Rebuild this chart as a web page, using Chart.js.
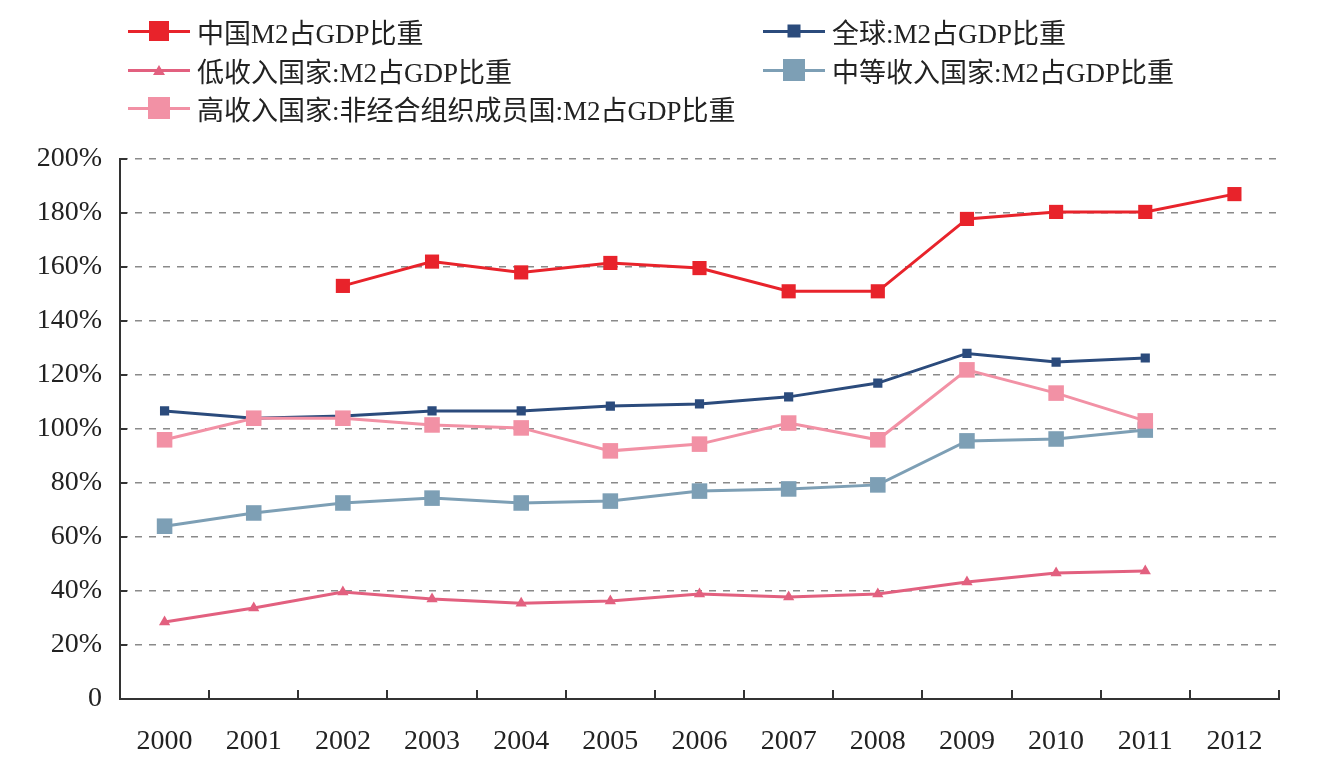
<!DOCTYPE html>
<html>
<head>
<meta charset="utf-8">
<script src="https://cdn.jsdelivr.net/npm/chart.js@4"></script>
<style>
  html, body { margin: 0; padding: 0; background: #fff; }
  #wrap { position: relative; width: 1326px; height: 777px; }
  #c { position: absolute; left: 0; top: 0; }
  .leg { position: absolute; display: flex; align-items: center; font-family: "Liberation Serif", "Noto Sans CJK SC", serif; font-size: 27px; color: #222; white-space: nowrap; }
  .sample { position: relative; width: 62px; height: 20px; margin-right: 7px; }
  .sample .ln { position: absolute; left: 0; right: 0; top: 50%; height: 3px; margin-top: -1.5px; }
  .sample .mk { position: absolute; left: 50%; top: 50%; transform: translate(-50%, -50%); }
</style>
</head>
<body>
<div id="wrap">
  <canvas id="c" width="1326" height="777"></canvas>
  <div id="legend"></div>
</div>
<script>
const years = ['2000','2001','2002','2003','2004','2005','2006','2007','2008','2009','2010','2011','2012'];
const yTicks = [0,20,40,60,80,100,120,140,160,180,200];

const seriesNames = [
  '中国M2占GDP比重',
  '全球:M2占GDP比重',
  '低收入国家:M2占GDP比重',
  '中等收入国家:M2占GDP比重',
  '高收入国家:非经合组织成员国:M2占GDP比重'
];
const china   = [null, null, 153, 162, 158, 161.5, 159.6, 151, 151, 177.8, 180.4, 180.4, 187];
const world   = [106.7, 104, 104.8, 106.7, 106.7, 108.5, 109.3, 111.9, 117, 128, 124.8, 126.3, null];
const lowInc  = [28.5, 33.7, 39.6, 37, 35.5, 36.3, 38.9, 37.8, 38.9, 43.3, 46.7, 47.4, null];
const midInc  = [64, 68.9, 72.6, 74.4, 72.6, 73.3, 77, 77.8, 79.3, 95.6, 96.3, 99.6, null];
const highNon = [96, 104, 104, 101.5, 100.4, 91.9, 94.4, 102.2, 96, 121.9, 113.3, 103, null];

const colors = ['#e8232b', '#2b4b7c', '#e2607f', '#7d9fb5', '#f291a5'];
const styles = [
  {pointStyle: 'rect', radius: 10, lw: 3},
  {pointStyle: 'rect', radius: 6.5, lw: 3},
  {pointStyle: 'triangle', radius: 6.5, lw: 3},
  {pointStyle: 'rect', radius: 11, lw: 3},
  {pointStyle: 'rect', radius: 11, lw: 3}
];
const allData = [china, world, lowInc, midInc, highNon];
const order = [4, 3, 2, 1, 0];

const datasets = allData.map((d, i) => ({
  label: seriesNames[i],
  data: d,
  borderColor: colors[i],
  backgroundColor: colors[i],
  borderWidth: styles[i].lw,
  pointStyle: styles[i].pointStyle,
  pointRadius: styles[i].radius,
  pointHoverRadius: styles[i].radius,
  pointBorderWidth: 0,
  tension: 0,
  order: order[i]
}));

const innerTicks = {
  id: 'innerTicks',
  afterDraw(chart) {
    const ctx = chart.ctx, a = chart.chartArea;
    const x = chart.scales.x, y = chart.scales.y;
    ctx.save();
    ctx.strokeStyle = '#333';
    ctx.lineWidth = 2;
    const n = x.ticks.length;
    const step = (a.right - a.left) / n;
    for (let i = 0; i <= n; i++) {
      const px = Math.round(a.left + i * step);
      ctx.beginPath(); ctx.moveTo(px, a.bottom); ctx.lineTo(px, a.bottom - 9); ctx.stroke();
    }
    y.ticks.forEach((t, i) => {
      const py = y.getPixelForTick(i);
      ctx.beginPath(); ctx.moveTo(a.left, py); ctx.lineTo(a.left + 7, py); ctx.stroke();
    });
    ctx.restore();
  }
};

const chart = new Chart(document.getElementById('c'), {
  type: 'line',
  data: { labels: years, datasets },
  options: {
    responsive: false,
    animation: false,
    layout: { padding: { left: 0, top: 159, right: 47, bottom: 0 } },
    plugins: { legend: { display: false }, tooltip: { enabled: false } },
    scales: {
      x: {
        offset: true,
        grid: { display: false, drawTicks: false },
        border: { display: true, color: '#333', width: 2 },
        ticks: { color: '#222', padding: 26, font: { family: '"Liberation Serif", serif', size: 28 } },
        afterFit(s) { s.height = 78; }
      },
      y: {
        min: 0, max: 200,
        afterBuildTicks(s) { s.ticks = yTicks.map(v => ({ value: v })); },
        grid: { color: '#8a8a8a', lineWidth: 1.5, drawTicks: false },
        border: { display: true, color: '#333', width: 2, dash: [7, 7] },
        ticks: {
          color: '#222', padding: 18,
          font: { family: '"Liberation Serif", serif', size: 28 },
          callback: v => v === 0 ? '0' : v + '%'
        },
        afterFit(s) { s.width = 120; }
      }
    }
  },
  plugins: [innerTicks]
});

const legPos = [
  {x: 128, y: 31}, {x: 763, y: 31},
  {x: 128, y: 70}, {x: 763, y: 70},
  {x: 128, y: 108}
];
const legend = document.getElementById('legend');
seriesNames.forEach((name, i) => {
  const d = document.createElement('div');
  d.className = 'leg';
  d.style.left = legPos[i].x + 'px';
  d.style.top = (legPos[i].y - 18) + 'px';
  d.style.height = '36px';
  const s = document.createElement('div');
  s.className = 'sample';
  const ln = document.createElement('div');
  ln.className = 'ln'; ln.style.background = colors[i];
  const mk = document.createElement('div');
  mk.className = 'mk';
  const r = styles[i].radius;
  if (styles[i].pointStyle === 'triangle') {
    mk.style.width = '0'; mk.style.height = '0';
    mk.style.borderLeft = r + 'px solid transparent';
    mk.style.borderRight = r + 'px solid transparent';
    mk.style.borderBottom = (r * 1.6) + 'px solid ' + colors[i];
  } else {
    mk.style.width = (r * 2) + 'px'; mk.style.height = (r * 2) + 'px';
    mk.style.background = colors[i];
  }
  s.appendChild(ln); s.appendChild(mk);
  const t = document.createElement('span');
  t.textContent = name;
  d.appendChild(s); d.appendChild(t);
  legend.appendChild(d);
});
</script>
</body>
</html>
